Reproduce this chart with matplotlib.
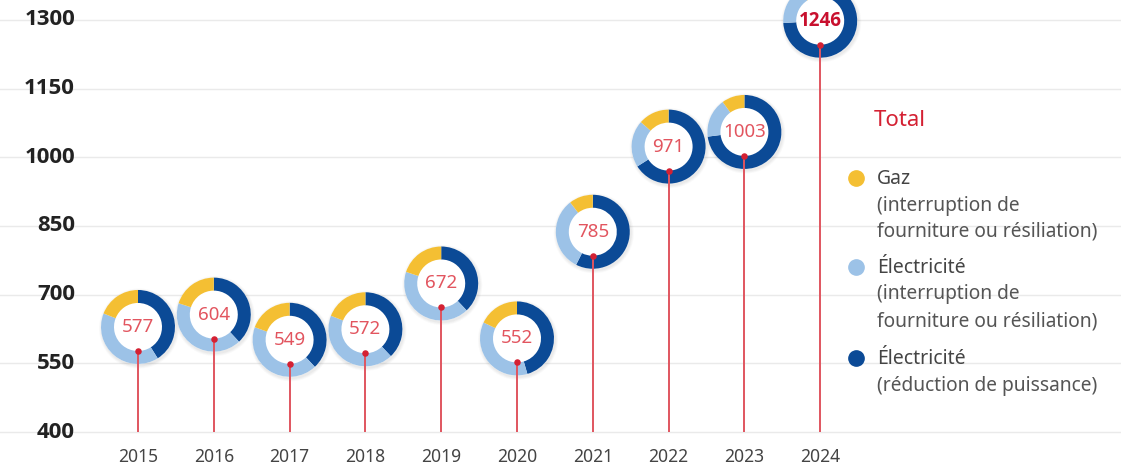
import numpy as np
import matplotlib
matplotlib.use('Agg')
import matplotlib.pyplot as plt
import matplotlib.transforms as mtransforms
from matplotlib.patches import Wedge, Circle
from matplotlib.lines import Line2D

plt.rcParams['font.family'] = ['Noto Sans', 'DejaVu Sans']

# data
years = [2015, 2016, 2017, 2018, 2019, 2020, 2021, 2022, 2023, 2024]
totals = [577, 604, 549, 572, 672, 552, 785, 971, 1003, 1246]
elec_reduction = [237, 230, 209, 217, 255, 251, 451, 641, 732, 922]
elec_interruption = [230, 253, 233, 246, 283, 202, 252, 199, 171, 212]
gaz = [110, 121, 107, 109, 134, 99, 82, 131, 100, 112]
yticks = [400, 550, 700, 850, 1000, 1150, 1300]

legend_items = [
    ('Gaz', ['(interruption de', 'fourniture ou résiliation)']),
    ('Électricité', ['(interruption de', 'fourniture ou résiliation)']),
    ('Électricité', ['(réduction de puissance)']),
]

c_gaz = '#F4BF33'
c_light = '#9CC2E7'
c_dark = '#0B4A96'
c_red = '#D42133'
c_label = '#E2555F'
seg_colors = [c_dark, c_light, c_gaz]
bold_font = ['Open Sans', 'DejaVu Sans']

W, H = 1121, 466
fig = plt.figure(figsize=(W / 100, H / 100), dpi=100)
ax = fig.add_axes([0, 0, 1, 1])
ax.set_xlim(2015 - 138 / 75.8, 2015 + (W - 138) / 75.8)
ax.set_ylim(400 - 34 / 412 * 900, 1300 + 20 / 412 * 900)
ax.axis('off')

# grid and y labels
ylab = mtransforms.blended_transform_factory(ax.transAxes, ax.transData)
for t in yticks:
    ax.axhline(t, color='#EAEAEA', lw=1, zorder=0)
    ax.text(75 / W, t, str(t), transform=ylab, ha='right', va='center',
            fontsize=16, fontweight='bold', family=bold_font, color='#222222')

# year labels
xlab = mtransforms.blended_transform_factory(ax.transData, ax.transAxes)
for yr in years:
    ax.text(yr, 3.5 / H, str(yr), transform=xlab, ha='center', va='baseline',
            fontsize=12.6, color='#444444')

# stems, drawn over the rings
ax.vlines(years, 400, totals, color='#E0555F', lw=1.4, zorder=6)

r_out, width = 0.37, 0.13
r_in = r_out - width
for i, yr in enumerate(years):
    off = mtransforms.ScaledTranslation(yr, totals[i], ax.transData)
    tr = fig.dpi_scale_trans + off
    cy = r_in
    # soft shadow
    for k, a in enumerate([0.05, 0.04, 0.03]):
        ax.add_patch(Circle((0.01, cy - 0.015), r_out + 0.01 * (k + 1),
                            transform=tr, color='#555555', alpha=a, lw=0, zorder=3))
    ax.add_patch(Circle((0, cy), r_out, transform=tr, color='white', lw=0, zorder=4))
    vals = [elec_reduction[i], elec_interruption[i], gaz[i]]
    fr = np.cumsum([0] + vals) / sum(vals)
    for j, col in enumerate(seg_colors):
        ax.add_patch(Wedge((0, cy), r_out, 90 - 360 * fr[j + 1], 90 - 360 * fr[j],
                           width=width, transform=tr, color=col, lw=0, zorder=5))
    if yr == 2024:
        ax.annotate(str(totals[i]), (yr, totals[i]), xytext=(0, r_in * 72),
                    textcoords='offset points', ha='center', va='center',
                    fontsize=13.5, fontweight='bold', family=bold_font,
                    color='#C8102E', zorder=7)
    else:
        ax.annotate(str(totals[i]), (yr, totals[i]), xytext=(0, r_in * 72),
                    textcoords='offset points', ha='center', va='center',
                    fontsize=13.5, color=c_label, zorder=7)

ax.scatter(years, totals, s=22, color=c_red, zorder=8, lw=0)

# legend
def fy(px):
    return 1 - px / H

fig.text(874 / W, fy(126), 'Total', color=c_red, fontsize=16, va='baseline')
dot_y = [178, 267, 358]
for (head, sub), col, y0 in zip(legend_items, [c_gaz, c_light, c_dark], dot_y):
    fig.add_artist(Line2D([856 / W], [fy(y0)], marker='o', markersize=11,
                          color=col, transform=fig.transFigure, lw=0))
    fig.text(877 / W, fy(y0 + 6), head, color='#444444', fontsize=14, va='baseline')
    for k, s in enumerate(sub):
        fig.text(877 / W, fy(y0 + 6 + 26.5 * (k + 1)), s, color='#555555',
                 fontsize=13.8, va='baseline')

fig.savefig('out.png', dpi=100)
